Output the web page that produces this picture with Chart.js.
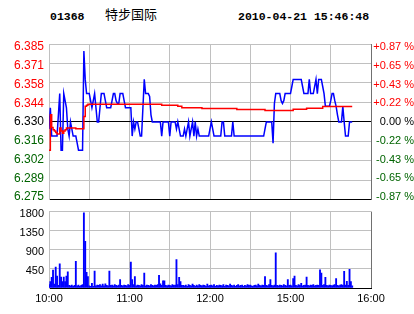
<!DOCTYPE html>
<html>
<head>
<meta charset="utf-8">
<script src="https://cdn.jsdelivr.net/npm/chart.js@4.4.0/dist/chart.umd.min.js"></script>
<style>
  html, body { margin: 0; padding: 0; background: #fff; }
  #wrap { position: relative; width: 414px; height: 314px; overflow: hidden; }
  .hdr { position: absolute; white-space: nowrap; color: #000; }
  .mono { font: bold 11.5px "Liberation Mono", "DejaVu Sans Mono", monospace; top: 10px; }
  #code { left: 50px; }
  #name { left: 105px; top: 4px; font: 13px "Noto Sans CJK SC", sans-serif; }
  #time { left: 238px; }
  canvas { position: absolute; left: 0; }
  #price { top: 0; }
  #vol { top: 200px; }
</style>
</head>
<body>
<div id="wrap">
  <div class="hdr mono" id="code">01368</div>
  <div class="hdr" id="name">特步国际</div>
  <div class="hdr mono" id="time">2010-04-21 15:46:48</div>
  <canvas id="price" width="414" height="212"></canvas>
  <canvas id="vol" width="414" height="114"></canvas>
</div>
<script>
// scale ranges and tick labels (bottom to top)
const priceMin = 6.275;
const priceMax = 6.385;
const priceLabels = ['6.275', '6.289', '6.302', '6.316', '6.330', '6.344', '6.358', '6.371', '6.385'];
const pctLabels = ['-0.87 %', '-0.65 %', '-0.43 %', '-0.22 %', '0.00 %', '+0.22 %', '+0.43 %', '+0.65 %', '+0.87 %'];
const volTicks = [0, 450, 900, 1350, 1800];
// minutes since 10:00 (lunch break 12:30-14:30 removed)
const timeTicks = [0, 30, 60, 90, 120, 150, 180, 210, 240];
const timeLabels = ['10:00', '', '11:00', '', '12:00', '', '15:00', '', '16:00'];

// price per minute, 10:00 .. 15:46
const price = [
  6.325, 6.340, 6.320, 6.320, 6.320, 6.320, 6.320, 6.335, 6.350, 6.310,
  6.310, 6.350, 6.345, 6.340, 6.325, 6.320, 6.330, 6.325, 6.320, 6.320,
  6.320, 6.315, 6.310, 6.310, 6.310, 6.310, 6.380, 6.360, 6.350, 6.350,
  6.350, 6.345, 6.340, 6.345, 6.350, 6.340, 6.330, 6.330, 6.340, 6.350,
  6.350, 6.350, 6.345, 6.340, 6.340, 6.340, 6.340, 6.345, 6.350, 6.350,
  6.345, 6.343, 6.343, 6.350, 6.350, 6.350, 6.345, 6.340, 6.340, 6.340,
  6.340, 6.340, 6.320, 6.330, 6.325, 6.330, 6.330, 6.325, 6.320, 6.320,
  6.340, 6.360, 6.350, 6.350, 6.350, 6.348, 6.335, 6.330, 6.330, 6.330,
  6.330, 6.330, 6.330, 6.330, 6.320, 6.330, 6.330, 6.330, 6.330, 6.330,
  6.320, 6.330, 6.330, 6.330, 6.330, 6.325, 6.330, 6.325, 6.320, 6.320,
  6.320, 6.325, 6.320, 6.325, 6.330, 6.320, 6.325, 6.330, 6.320, 6.330,
  6.320, 6.325, 6.320, 6.320, 6.320, 6.320, 6.320, 6.320, 6.320, 6.320,
  6.325, 6.330, 6.325, 6.320, 6.320, 6.320, 6.320, 6.320, 6.320, 6.330,
  6.330, 6.320, 6.320, 6.320, 6.320, 6.320, 6.320, 6.330, 6.320, 6.320,
  6.320, 6.320, 6.320, 6.320, 6.320, 6.320, 6.320, 6.320, 6.320, 6.320,
  6.320, 6.320, 6.320, 6.320, 6.320, 6.320, 6.320, 6.320, 6.320, 6.320,
  6.320, 6.325, 6.330, 6.330, 6.330, 6.330, 6.330, 6.315, 6.343, 6.350,
  6.350, 6.350, 6.350, 6.345, 6.343, 6.345, 6.350, 6.350, 6.350, 6.350,
  6.350, 6.355, 6.360, 6.360, 6.360, 6.360, 6.360, 6.360, 6.360, 6.355,
  6.350, 6.350, 6.350, 6.350, 6.360, 6.350, 6.350, 6.350, 6.355, 6.360,
  6.350, 6.360, 6.360, 6.360, 6.355, 6.350, 6.341, 6.341, 6.341, 6.341,
  6.345, 6.350, 6.350, 6.345, 6.341, 6.335, 6.330, 6.330, 6.330, 6.341,
  6.330, 6.320, 6.320, 6.320, 6.330, 6.330, 6.330
];

// volume per minute
const volume = [
  80, 150, 250, 420, 90, 490, 280, 60, 570, 260,
  150, 260, 150, 280, 380, 60, 50, 70, 40, 60,
  630, 50, 70, 40, 60, 80, 1770, 1100, 370, 270,
  50, 40, 110, 40, 400, 50, 70, 60, 80, 50,
  90, 50, 100, 60, 50, 400, 60, 70, 50, 80,
  60, 50, 70, 200, 60, 50, 70, 60, 50, 80,
  60, 610, 200, 80, 270, 50, 70, 60, 50, 80,
  60, 350, 50, 70, 60, 50, 80, 60, 50, 70,
  60, 80, 300, 100, 60, 170, 170, 60, 50, 70,
  60, 50, 80, 60, 70, 670, 80, 250, 150, 60,
  60, 50, 70, 40, 80, 60, 50, 90, 60, 40,
  70, 50, 80, 60, 50, 70, 60, 40, 90, 50,
  60, 70, 50, 80, 40, 60, 50, 70, 60, 50,
  80, 40, 70, 60, 50, 90, 60, 50, 70, 40,
  60, 80, 50, 60, 70, 40, 60, 50, 80, 60,
  70, 50, 40, 60, 70, 50, 90, 60, 50, 70,
  60, 270, 60, 50, 80, 200, 60, 50, 70, 830,
  60, 50, 70, 60, 50, 80, 60, 50, 200, 60,
  70, 50, 220, 280, 60, 50, 80, 60, 110, 50,
  60, 70, 260, 60, 50, 70, 60, 80, 50, 60,
  70, 60, 430, 350, 60, 80, 250, 60, 50, 70,
  60, 50, 70, 80, 220, 60, 50, 70, 80, 60,
  390, 70, 160, 60, 440, 150, 50
];

// average price, value from each minute on
const avgMinutes = [0, 1, 2, 3, 4, 5, 6, 8, 9, 10, 11, 12, 13, 20, 26, 27, 28, 29, 84, 96, 99, 114, 140, 161, 182, 192, 204, 226];
const avgValues = [6.310, 6.335, 6.326, 6.3245, 6.3235, 6.3225, 6.3215, 6.3257, 6.3235, 6.322, 6.3235, 6.3245, 6.3257, 6.3252,
  6.3338, 6.341, 6.3418, 6.3425, 6.3418, 6.341, 6.340, 6.3395, 6.3388, 6.3381, 6.339, 6.3397, 6.3408, 6.3408];

const GRID = '#c0c0c0';
const EDGE = '#707070';
const RED = '#ff0000';
const GREEN = '#006400';
const BLUE = '#0000ff';

Chart.defaults.font.family = '"Liberation Sans", Arial, sans-serif';

const priceTicks = priceLabels.map((_, i) => priceMin + i * (priceMax - priceMin) / (priceLabels.length - 1));
const labelColor = (i) => (i > 4 ? RED : i < 4 ? GREEN : '#000');

// the price labels sit a little inside the top and bottom grid lines,
// so they get their own axes with a slightly wider range (in px of a 159px panel)
const panelH = 159;
const insetTop = 3, insetBottom = 2.8;
const perPx = (priceMax - priceMin) / (panelH - insetTop - insetBottom);
const labMax = priceMax + insetTop * perPx;
const labMin = priceMin - insetBottom * perPx;

const labelAxis = (position, labels, size, extra) => ({
  type: 'linear',
  position,
  min: labMin,
  max: labMax,
  afterBuildTicks: (s) => { s.ticks = priceTicks.map((v) => ({ value: v })); },
  ticks: Object.assign({
    autoSkip: false,
    callback: (v, i) => labels[i],
    color: (c) => labelColor(c.index),
    font: { size },
  }, extra.ticks),
  afterFit: extra.afterFit,
  grid: { display: false, drawTicks: false },
  border: extra.border,
});

new Chart(document.getElementById('price'), {
  type: 'line',
  data: {
    datasets: [
      {
        data: avgMinutes.map((m, i) => ({ x: m, y: avgValues[i] })),
        borderColor: RED,
        borderWidth: 1.5,
        stepped: true,
        pointRadius: 0,
        yAxisID: 'y',
      },
      {
        data: price.map((v, i) => ({ x: i, y: v })),
        borderColor: BLUE,
        borderWidth: 1.5,
        pointRadius: 0,
        yAxisID: 'y',
      },
    ],
  },
  options: {
    responsive: false,
    animation: false,
    devicePixelRatio: 1,
    layout: { padding: { top: 44 } },
    plugins: { legend: { display: false }, tooltip: { enabled: false } },
    scales: {
      x: {
        type: 'linear',
        min: 0,
        max: 240,
        afterBuildTicks: (s) => { s.ticks = timeTicks.map((v) => ({ value: v })); },
        afterFit: (s) => { s.height = 9; },
        ticks: { display: false },
        grid: { color: (c) => (c.index === 8 ? EDGE : GRID), drawTicks: false },
        border: { color: '#000' },
      },
      y: {
        type: 'linear',
        position: 'left',
        min: priceMin,
        max: priceMax,
        afterBuildTicks: (s) => { s.ticks = priceTicks.map((v) => ({ value: v })); },
        afterFit: (s) => { s.width = 0; },
        ticks: { display: false },
        grid: { color: (c) => (c.index === 0 || c.index === 4 ? '#000' : GRID), drawTicks: false },
        border: { display: false },
      },
      yLab: labelAxis('left', priceLabels, 12, {
        ticks: { padding: 5 },
        afterFit: (s) => { s.width = 49; },
        border: { color: GRID },
      }),
      pct: labelAxis('right', pctLabels, 11, {
        ticks: { padding: 1, crossAlign: 'far' },
        afterFit: (s) => { s.width = 43; },
        border: { color: EDGE },
      }),
    },
  },
});

new Chart(document.getElementById('vol'), {
  type: 'bar',
  data: {
    datasets: [
      {
        data: volume.map((v, i) => ({ x: i, y: v })),
        backgroundColor: BLUE,
        borderWidth: 0,
        barThickness: 1.2,
      },
    ],
  },
  options: {
    responsive: false,
    animation: false,
    devicePixelRatio: 1,
    layout: { padding: { top: 9, right: 43 } },
    plugins: { legend: { display: false }, tooltip: { enabled: false } },
    scales: {
      x: {
        type: 'linear',
        min: 0,
        max: 240,
        offset: false,
        afterBuildTicks: (s) => { s.ticks = timeTicks.map((v) => ({ value: v })); },
        afterFit: (s) => { s.height = 26; },
        ticks: {
          autoSkip: false,
          maxRotation: 0,
          callback: (v, i) => timeLabels[i],
          color: '#000',
          font: { size: 11 },
          padding: 4,
        },
        grid: { offset: false, color: (c) => (c.index === 8 ? EDGE : GRID), drawTicks: false },
        border: { color: '#000' },
      },
      y: {
        type: 'linear',
        min: 0,
        max: 1800,
        afterBuildTicks: (s) => { s.ticks = volTicks.map((v) => ({ value: v })); },
        afterFit: (s) => { s.width = 49; },
        ticks: {
          autoSkip: false,
          callback: (v) => (v === 0 ? '' : String(v)),
          color: '#000',
          font: { size: 11 },
          padding: 5,
          labelOffset: 2,
        },
        grid: { color: (c) => (c.index === 0 ? '#000' : GRID), drawTicks: false },
        border: { color: GRID },
      },
    },
  },
});
</script>
</body>
</html>
